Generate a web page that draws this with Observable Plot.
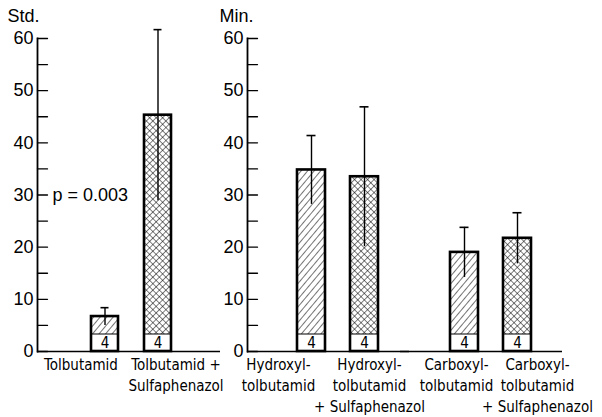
<!DOCTYPE html>
<html><head><meta charset="utf-8">
<script src="https://cdn.jsdelivr.net/npm/d3@7"></script>
<script src="https://cdn.jsdelivr.net/npm/@observablehq/plot@0.6"></script>
<style>
body{margin:0;background:#fff;}
#chart{position:relative;width:602px;height:417px;background:#fff;}
#chart svg{position:absolute;left:0;top:0;overflow:visible;background:transparent;}
g[aria-label="xlabels"] text, g[aria-label="nlabels"] text{letter-spacing:1.2px;}
g[aria-label="ticklabels"] text, g[aria-label="unit"] text, g[aria-label="pvalue"] text{letter-spacing:0.8px;}
</style></head><body><div id="chart"></div>
<script>
// ---- data ----
const leftCategories = ["Tolbutamid", "Tolbutamid +\nSulfaphenazol"];
const leftMeans = [6.7, 45.3];
const leftSD = [1.7, 16.4];
const leftPatterns = ["diag", "cross"];
const substances = ["Hydroxyl", "Carboxyl"];
const treatments = ["ohne Sulfaphenazol", "mit Sulfaphenazol"];
const rightLabels = ["Hydroxyl-\ntolbutamid", "Hydroxyl-\ntolbutamid\n+ Sulfaphenazol", "Carboxyl-\ntolbutamid", "Carboxyl-\ntolbutamid\n+ Sulfaphenazol"];
const rightMeans = [34.8, 33.5, 19.0, 21.7];
const rightSD = [6.6, 13.4, 4.8, 4.9];
const nValues = [4, 4, 4, 4, 4, 4];
const yTicks = [0, 10, 20, 30, 40, 50, 60];
const yMinorTicks = [0, 5, 10, 15, 20, 25, 30, 35, 40, 45, 50, 55, 60];
const leftUnit = "Std.";
const rightUnit = "Min.";
const pText = "p = 0.003";

// ---- tables ----
const left = leftCategories.map((c, i) => ({cat: c, mean: leftMeans[i], sd: leftSD[i], n: nValues[i], pattern: leftPatterns[i], label: c}));
const right = rightLabels.map((l, i) => ({
  substance: substances[Math.floor(i / 2)], cat: treatments[i % 2], label: l,
  mean: rightMeans[i], sd: rightSD[i], n: nValues[2 + i], pattern: i % 2 ? "cross" : "diag"
}));

const numFont = "'Liberation Sans', Arial, sans-serif";
const labFont = "'DejaVu Sans Condensed', 'DejaVu Sans', sans-serif";
const tickShape = {draw(context, l) { context.moveTo(0, 0); context.lineTo(0, -l); }};
// typographic nudges of the category labels (as hand-set in the original)
const leftLabelNudge = [-24, 18];
const rightLabelNudge = [-33, 5, -8, 20];

function barMarks(data, fx, nudges) {
  const f = fx ? {fx: "substance"} : {};
  const lab = {...f, x: "cat", text: "label", frameAnchor: "bottom", dy: 4, lineAnchor: "top", lineHeight: 1.4, fontSize: 15, fontFamily: labFont, ariaLabel: "xlabels"};
  return [
    Plot.barY(data.filter(d => d.pattern === "diag"), {...f, x: "cat", y: "mean", fill: "url(#diag)"}),
    Plot.barY(data.filter(d => d.pattern === "cross"), {...f, x: "cat", y: "mean", fill: "url(#cross)"}),
    Plot.barY(data, {...f, x: "cat", y1: 0, y2: 0, insetTop: -17, fill: "white", stroke: "black", strokeWidth: 1}),
    Plot.text(data, {...f, x: "cat", y: 0, text: "n", dy: -8, fontSize: 15, fontFamily: labFont, ariaLabel: "nlabels"}),
    Plot.barY(data, {...f, x: "cat", y: "mean", fill: "none", stroke: "black", strokeWidth: 2.6}),
    Plot.ruleX(data, {...f, x: "cat", y1: d => d.mean - d.sd, y2: d => d.mean + d.sd, strokeWidth: 1.4}),
    Plot.tickY(data, {...f, x: "cat", y: d => d.mean + d.sd, insetLeft: 9.5, insetRight: 9.5, strokeWidth: 1.6}),
    ...data.map((d, i) => Plot.text([d], {...lab, dx: nudges[i]}))
  ];
}

function axisMarks(extra) {
  return [
    Plot.frame({anchor: "left", strokeWidth: 1.8, ...extra}),
    Plot.vector(yMinorTicks, {y: d => d, frameAnchor: "left", length: 10, rotate: 90, anchor: "start", shape: tickShape, strokeWidth: 1.3, ...extra}),
    Plot.axisY(yTicks, {tickSize: 0, tickPadding: 4, fontSize: 18, fontFamily: numFont, label: null, tickFormat: d => String(d), ariaLabel: "ticklabels"})
  ];
}

const leftPlot = Plot.plot({
  width: 602, height: 417,
  marginTop: 38, marginBottom: 66, marginLeft: 37, marginRight: 382,
  style: {background: "transparent", overflow: "visible"},
  x: {domain: leftCategories, paddingInner: 0.49, paddingOuter: 0.97, align: 0.52, axis: null},
  y: {domain: [0, 60], axis: null},
  marks: [
    ...barMarks(left, false, leftLabelNudge),
    Plot.ruleY([0], {strokeWidth: 1.5}),
    ...axisMarks({}),
    Plot.text([leftUnit], {text: d => d, frameAnchor: "top-left", dx: -30, dy: -22, textAnchor: "start", lineAnchor: "middle", fontSize: 18, fontFamily: numFont, ariaLabel: "unit"}),
    Plot.text([pText], {text: d => d, frameAnchor: "left", dx: 15, textAnchor: "start", fontSize: 18, fontFamily: numFont, ariaLabel: "pvalue"})
  ]
});

const rightPlot = Plot.plot({
  width: 602, height: 417,
  marginTop: 38, marginBottom: 66, marginLeft: 247, marginRight: 40,
  style: {background: "transparent", overflow: "visible"},
  fx: {domain: substances, paddingInner: 0, paddingOuter: 0.0294, align: 0, axis: null},
  x: {domain: treatments, paddingInner: 0.47, paddingOuter: 0.678, align: 0.695, axis: null},
  y: {domain: [0, 60], axis: null},
  marks: [
    ...barMarks(right, true, rightLabelNudge),
    Plot.ruleY([0], {strokeWidth: 1.5, insetRight: -9}),
    ...axisMarks({facetAnchor: "left"}),
    Plot.text([rightUnit], {text: d => d, frameAnchor: "top-left", dx: -28, dy: -22, textAnchor: "start", lineAnchor: "middle", fontSize: 18, fontFamily: numFont, facetAnchor: "left", ariaLabel: "unit"})
  ]
});

d3.select(leftPlot).insert("defs", ":first-child").html(`
  <pattern id="diag" patternUnits="userSpaceOnUse" width="5" height="5" patternTransform="rotate(40)">
    <rect width="5" height="5" fill="white"/>
    <line x1="0" y1="0" x2="0" y2="5" stroke="black" stroke-width="1.1"/>
  </pattern>
  <pattern id="cross" patternUnits="userSpaceOnUse" width="4.6" height="4.6" patternTransform="rotate(45)">
    <rect width="4.6" height="4.6" fill="white"/>
    <line x1="0" y1="0" x2="0" y2="4.6" stroke="black" stroke-width="1"/>
    <line x1="0" y1="0" x2="4.6" y2="0" stroke="black" stroke-width="1"/>
  </pattern>`);

const chart = document.getElementById("chart");
chart.appendChild(leftPlot);
chart.appendChild(rightPlot);
</script></body></html>
